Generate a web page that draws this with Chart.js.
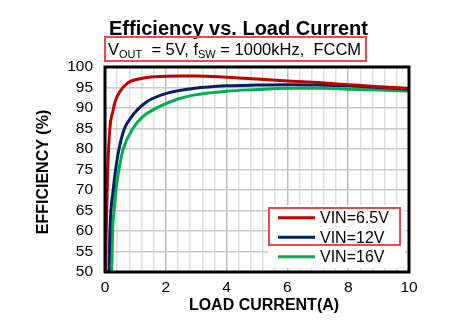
<!DOCTYPE html>
<html>
<head>
<meta charset="utf-8">
<script src="https://cdn.jsdelivr.net/npm/chart.js@4.4.1/dist/chart.umd.min.js"></script>
<style>
  html, body { margin: 0; padding: 0; background: #fff; }
  canvas { display: block; }
</style>
</head>
<body>
<canvas id="effChart" width="464" height="326"></canvas>
<script>
// load current (A) and efficiency (%) for each input voltage
const current65 = [0.02, 0.04, 0.09, 0.16, 0.27, 0.33, 0.49, 0.77, 1.2, 1.64, 2.5, 3, 4, 5, 6, 7, 8, 9, 10];
const eff65     = [50, 60, 75, 85, 89.5, 91.5, 94, 96.2, 97.2, 97.6, 97.8, 97.8, 97.5, 97.1, 96.6, 96.2, 95.7, 95.2, 94.8];

const current12 = [0.13, 0.16, 0.27, 0.35, 0.46, 0.64, 0.82, 1.07, 1.3, 1.53, 2.08, 2.96, 4, 5, 6, 7, 8, 9, 10];
const eff12     = [50, 60, 70, 75, 80, 85, 87.3, 89.6, 91.1, 92.2, 93.7, 94.8, 95.4, 95.6, 95.7, 95.6, 95.4, 95, 94.6];

const current16 = [0.22, 0.25, 0.3, 0.36, 0.46, 0.6, 0.92, 1.2, 1.75, 2.4, 2.96, 4, 5, 6, 7, 8, 9, 10];
const eff16     = [50, 60, 65, 70, 75, 80, 85, 87.6, 90.2, 92.2, 93.2, 94.1, 94.5, 94.8, 94.8, 94.6, 94.4, 94.1];

const seriesNames  = ["VIN=6.5V", "VIN=12V", "VIN=16V"];
const seriesColors = ["#c00000", "#002060", "#00b050"];

const xTickLabels = [0, 2, 4, 6, 8, 10];
const FONT = "'Liberation Sans', Arial, sans-serif";

function toPoints(xs, ys) {
  return xs.map((x, i) => ({ x: x, y: ys[i] }));
}

function isLabelTick(v) {
  const r = Math.round(v * 10) / 10;
  return xTickLabels.indexOf(r) !== -1;
}

// title, subtitle, axis titles, legend and frame
const decorations = {
  id: "decorations",
  afterDatasetsDraw(chart) {
    const ctx = chart.ctx;
    const a = chart.chartArea;
    ctx.save();
    ctx.strokeStyle = "#000";
    ctx.lineWidth = 3;
    ctx.strokeRect(a.left, a.top, a.right - a.left, a.bottom - a.top);
    ctx.restore();
  },
  afterDraw(chart) {
    const ctx = chart.ctx;
    ctx.save();
    ctx.fillStyle = "#000";

    // title
    ctx.font = "bold 20px " + FONT;
    ctx.textAlign = "center";
    ctx.textBaseline = "alphabetic";
    ctx.fillText("Efficiency vs. Load Current", 238.5, 34.5);

    // subtitle with subscripts
    const parts = [
      ["V", false], ["OUT", true], ["  = 5V, f", false], ["SW", true], [" = 1000kHz,  FCCM", false]
    ];
    let x = 108;
    ctx.textAlign = "left";
    parts.forEach(([txt, sub]) => {
      ctx.font = (sub ? "11px " : "16.5px ") + FONT;
      ctx.fillText(txt, x, sub ? 58 : 54.5);
      x += ctx.measureText(txt).width;
    });
    ctx.strokeStyle = "#f04848";
    ctx.lineWidth = 2;
    ctx.strokeRect(105, 37, 261, 24);

    // axis titles
    ctx.font = "bold 16px " + FONT;
    ctx.textAlign = "center";
    ctx.textBaseline = "middle";
    ctx.fillText("LOAD CURRENT(A)", 264, 305.5);
    ctx.save();
    ctx.translate(44, 172);
    ctx.rotate(-Math.PI / 2);
    ctx.fillText("EFFICIENCY (%)", 0, 0);
    ctx.restore();

    // legend
    ctx.fillStyle = "#fff";
    ctx.fillRect(268, 205, 137, 63);
    ctx.font = "16px " + FONT;
    ctx.textAlign = "left";
    seriesNames.forEach((name, i) => {
      const y = 217.7 + i * 19.5;
      ctx.strokeStyle = seriesColors[i];
      ctx.lineWidth = 3;
      ctx.beginPath();
      ctx.moveTo(278, y);
      ctx.lineTo(315, y);
      ctx.stroke();
      ctx.fillStyle = "#000";
      ctx.fillText(name, 320, y + 1);
    });
    ctx.strokeStyle = "#f04848";
    ctx.lineWidth = 2;
    ctx.strokeRect(269, 208, 131, 37);
    ctx.restore();
  }
};

const ctx = document.getElementById("effChart").getContext("2d");
new Chart(ctx, {
  type: "line",
  data: {
    datasets: [
      { label: seriesNames[0], data: toPoints(current65, eff65), borderColor: seriesColors[0] },
      { label: seriesNames[1], data: toPoints(current12, eff12), borderColor: seriesColors[1] },
      { label: seriesNames[2], data: toPoints(current16, eff16), borderColor: seriesColors[2] },
    ],
  },
  options: {
    responsive: false,
    animation: false,
    layout: { padding: { top: 67, right: 55, left: 0, bottom: 0 } },
    elements: {
      line: { borderWidth: 3, cubicInterpolationMode: "monotone", fill: false },
      point: { radius: 0 },
    },
    plugins: {
      legend: { display: false },
      title: { display: false },
      tooltip: { enabled: false },
    },
    scales: {
      x: {
        type: "linear",
        min: 0,
        max: 10,
        afterFit: (s) => { s.height = 54; },
        ticks: {
          stepSize: 0.4,
          autoSkip: false,
          maxRotation: 0,
          padding: 6,
          color: "#000",
          font: { family: FONT, size: 15.5 },
          callback: (v) => (isLabelTick(v) ? Math.round(v) : ""),
        },
        grid: {
          drawTicks: false,
          lineWidth: 1.5,
          color: (c) => (c.tick && isLabelTick(c.tick.value) ? "#bdbdbd" : "#dedede"),
        },
        border: { display: false },
      },
      y: {
        min: 50,
        max: 100,
        afterFit: (s) => { s.width = 105; },
        ticks: {
          stepSize: 5,
          autoSkip: false,
          padding: 12,
          color: "#000",
          font: { family: FONT, size: 15.5 },
        },
        grid: { drawTicks: false, lineWidth: 1.5, color: "#c8c8c8" },
        border: { display: false },
      },
    },
  },
  plugins: [decorations],
});
</script>
</body>
</html>
